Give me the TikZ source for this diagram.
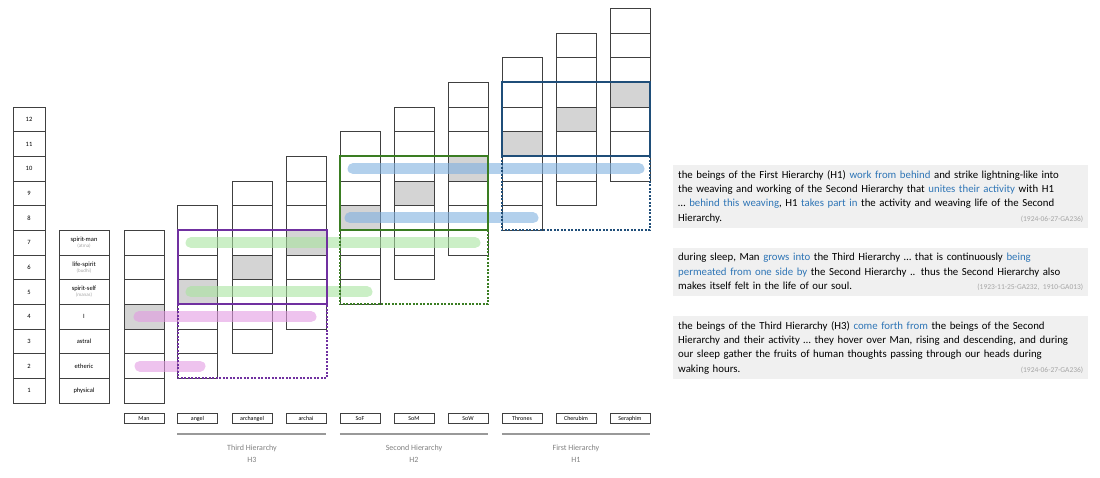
\documentclass[tikz,border=0pt]{standalone}
\usepackage{fontspec}
\setmainfont{Carlito}
\usetikzlibrary{positioning}
\definecolor{hthree}{HTML}{7030A0}
\definecolor{htwo}{HTML}{3A7D22}
\definecolor{hone}{HTML}{1F4E79}
\definecolor{quote}{HTML}{2E75B6}
\definecolor{cite}{HTML}{A6A6A6}
\definecolor{pinklight}{HTML}{E29BE2}
\definecolor{greenlight}{HTML}{A9E4A0}
\definecolor{bluelight}{HTML}{7FB0E0}
\def\Band#1#2#3#4#5{%
 \draw[#1, line width=11pt, opacity=.6, line cap=round] (#3,{403-(#2-0.5)*24.67}) -- (#4,{403-(#2-0.5)*24.67});
}
\def\HBox#1#2#3#4#5{%
 \draw[#1, line width=2pt] (#2,{403-(#4)*24.67}) rectangle (#3,{403-(#5-1)*24.67});
 \draw[#1, line width=2pt, dash pattern=on 2pt off 1.5pt] (#2,{403-(#5-1)*24.67}) -- (#2,{403-(#5-4)*24.67}) -- (#3,{403-(#5-4)*24.67}) -- (#3,{403-(#5-1)*24.67});
}
\begin{document}
\begin{tikzpicture}[x=1pt, y=-1pt,
  cell/.style={draw=black!75, line width=0.5pt, minimum width=40pt, minimum height=24.67pt, inner sep=0pt, font=\fontsize{6.5}{7}\selectfont},
  shaded/.style={cell, fill=black!17},
  namebox/.style={draw=black!75, minimum width=40pt, minimum height=10pt, inner sep=0pt, font=\fontsize{6}{7}\selectfont},
  hierline/.style={draw=black!40, line width=2.5pt},
  hiername/.style={text=black!50, align=center, font=\fontsize{8}{12}\selectfont},
  quotebox/.style={fill=black!6, text width=405pt, inner sep=5pt, align=left, anchor=north west, font=\fontsize{10.8}{14.4}\selectfont},
  pinkbar/.style={draw=pinklight},
  greenbar/.style={draw=greenlight},
  bluebar/.style={draw=bluelight}]
\useasboundingbox (0,0) rectangle (1100,477);
% level numbers
\foreach \k in {1,...,12}
  \node[cell, minimum width=32pt] (num\k) at (29,{403-(\k-0.5)*24.67}) {\k};
% constitution
\foreach \k/\t in {1/physical, 2/etheric, 3/astral, 4/I}
  \node[cell, minimum width=50pt] (lab\k) at (84,{403-(\k-0.5)*24.67}) {\t};
\foreach \k/\t/\s in {5/spirit-self/manas, 6/life-spirit/budhi, 7/spirit-man/atma}
  \node[cell, minimum width=50pt, align=center] (lab\k) at (84,{403-(\k-0.5)*24.67}) {\t\\[-1pt]{\fontsize{5}{6}\selectfont\color{cite}(\s)}};
% beings
\foreach \x/\n [count=\i from 0] in {144/Man, 197.5/angel, 252/archangel, 306/archai, 360/SoF, 414/SoM, 468/SoW, 522/Thrones, 576/Cherubim, 630/Seraphim} {
  \foreach \j in {1,...,7} {
    \pgfmathtruncatemacro\k{\i+\j}
    \ifnum\j=4
      \node[shaded] (b\i-\k) at (\x,{403-(\k-0.5)*24.67}) {};
    \else
      \node[cell] (b\i-\k) at (\x,{403-(\k-0.5)*24.67}) {};
    \fi
  }
  \node[namebox] (name\i) at (\x,418.5) {\n};
}
% hierarchies
\draw[hierline] (name1.west |- 0,434) -- (name3.east |- 0,434);
\draw[hierline] (name4.west |- 0,434) -- (name6.east |- 0,434);
\draw[hierline] (name7.west |- 0,434) -- (name9.east |- 0,434);
\node[hiername] (h3) at (252,454) {Third Hierarchy\\H3};
\node[hiername] (h2) at (414,454) {Second Hierarchy\\H2};
\node[hiername] (h1) at (576,454) {First Hierarchy\\H1};
% bands
\Band{pinkbar}{4}{139}{311}{}
\Band{pinkbar}{2}{140}{200}{}
\Band{greenbar}{7}{191}{475}{}
\Band{greenbar}{5}{191}{367}{}
\Band{bluebar}{10}{353}{639}{}
\Band{bluebar}{8}{350}{533}{}
\HBox{hthree}{178}{327}{7}{5}
\HBox{htwo}{340}{488}{10}{8}
\HBox{hone}{502}{650}{13}{11}
% quotes
\node[quotebox] (q1) at (673,165) {the beings of the First Hierarchy (H1) {\color{quote}work from behind} and strike lightning-like into\\
the weaving and working of the Second Hierarchy that {\color{quote}unites their activity} with H1\\
\dots{} {\color{quote}behind this weaving}, H1 {\color{quote}takes part in} the activity and weaving life of the Second\\
Hierarchy.\hfill{\fontsize{7.5}{9}\selectfont\color{cite}(1924-06-27-GA236)}};
\node[quotebox, below=20pt of q1.south west, anchor=north west] (q2) {during sleep, Man {\color{quote}grows into} the Third Hierarchy \dots{} that is continuously {\color{quote}being}\\
{\color{quote}permeated from one side by} the Second Hierarchy .. thus the Second Hierarchy also\\
makes itself felt in the life of our soul.\hfill{\fontsize{7.5}{9}\selectfont\color{cite}(1923-11-25-GA232, 1910-GA013)}};
\node[quotebox, below=20pt of q2.south west, anchor=north west] (q3) {the beings of the Third Hierarchy (H3) {\color{quote}come forth from} the beings of the Second\\
Hierarchy and their activity \dots{} they hover over Man, rising and descending, and during\\
our sleep gather the fruits of human thoughts passing through our heads during\\
waking hours.\hfill{\fontsize{7.5}{9}\selectfont\color{cite}(1924-06-27-GA236)}};
\end{tikzpicture}
\end{document}
